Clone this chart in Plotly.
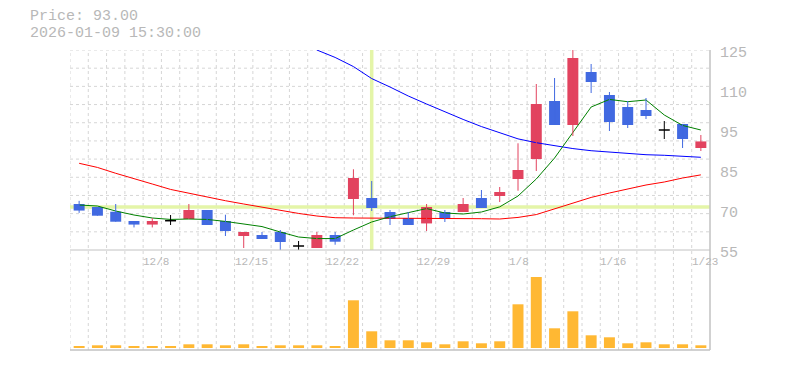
import plotly.graph_objects as go

# ---------------- data ----------------
dates = ['12/2', '12/3', '12/4', '12/5', '12/8', '12/9', '12/10', '12/11', '12/12',
         '12/15', '12/16', '12/17', '12/18', '12/19', '12/22', '12/23', '12/24',
         '12/25', '12/26', '12/29', '12/30', '1/5', '1/6', '1/7', '1/8', '1/9',
         '1/13', '1/14', '1/15', '1/16', '1/19', '1/20', '1/21', '1/22', '1/23']
opens = [71.1, 70.05, 68.4, 65.15, 63.9, 65.25, 65.85, 69.0, 65.15, 59.9, 60.25, 61.3,
         56.4, 55.7, 60.25, 72.85, 73.2, 68.3, 66.2, 64.3, 68.3, 68.3, 73.2, 73.9,
         79.85, 86.85, 107.15, 98.75, 117.3, 109.25, 105.05, 104.0, 97.0, 99.1, 90.7]
highs = [72.2, 70.1, 71.1, 65.15, 66.1, 67.25, 71.1, 69.0, 67.35, 61.3, 61.3, 62.0,
         58.15, 61.3, 61.3, 83.25, 79.15, 69.0, 68.3, 71.1, 69.0, 73.2, 76.0, 77.05,
         92.35, 113.1, 115.2, 125.0, 120.1, 110.3, 107.15, 108.2, 100.15, 99.1, 95.25]
lows = [68.0, 67.0, 64.9, 62.9, 62.9, 63.75, 65.85, 63.75, 59.9, 55.7, 58.85, 55.0,
        55.0, 55.7, 56.85, 67.15, 68.65, 63.75, 63.75, 61.65, 64.8, 68.3, 69.7, 71.8,
        75.75, 82.65, 98.75, 94.9, 109.95, 96.65, 97.7, 100.85, 93.85, 90.7, 89.65]
closes = [68.8, 67.0, 64.9, 63.9, 65.15, 65.25, 69.0, 63.75, 61.65, 61.3, 58.85, 57.8,
          56.4, 60.25, 57.9, 80.2, 69.7, 65.85, 63.75, 70.05, 65.85, 71.1, 69.7, 75.3,
          83.0, 106.1, 98.75, 122.2, 113.8, 99.8, 98.75, 101.9, 97.0, 93.85, 93.0]
volumes = [17, 27, 27, 17, 17, 17, 37, 37, 27, 37, 17, 27, 27, 27, 17, 477, 167, 77,
           77, 57, 37, 67, 47, 67, 437, 710, 197, 367, 127, 107, 47, 57, 37, 37, 27]
ma_short = [70.75, 70.4, 68.65, 67.25, 66.2, 65.7, 65.85, 65.7, 65.0, 64.1, 63.2, 61.3,
            59.55, 59.0, 59.0, 62.0, 64.8, 66.65, 68.1, 69.5, 67.95, 67.6, 68.3, 70.1,
            73.9, 79.85, 87.2, 96.3, 105.05, 107.7, 106.9, 107.5, 102.25, 98.6, 97.0]
ma_mid = [85.35, 83.9, 81.85, 79.85, 78.1, 76.2, 74.8, 73.4, 72.25, 71.1, 69.95, 68.8,
          67.8, 66.9, 66.3, 66.2, 66.2, 66.2, 66.1, 66.1, 66.0, 66.0, 65.95, 65.85,
          66.4, 67.4, 69.35, 71.45, 73.4, 74.95, 76.35, 77.75, 78.8, 80.2, 81.3]
ma_long = [None, None, None, None, None, None, None, None, None, None, None, None, None,
           125.0, 122.4, 119.2, 115.0, 112.05, 108.9, 106.1, 103.3, 100.7, 98.2, 95.95,
           93.9, 92.55, 91.4, 90.5, 89.75, 89.2, 88.8, 88.35, 88.15, 87.85, 87.45]
price_tick_vals = [55, 69, 83, 97, 111, 125]
price_tick_text = ['55', '70', '85', '95', '110', '125']
date_label_idx = [4, 9, 14, 19, 24, 29, 34]
title_price = 'Price: 93.00'
title_time = '2026-01-09 15:30:00'
cursor_idx = 16
cursor_price = 70.05

# ---------------- styling ----------------
UP = '#e2435f'
DOWN = '#4169e1'
VOL = '#ffb833'
GRID = '#d6d6d6'
AXIS = '#c2c2c2'
TXT = '#b8b8b8'
HL = '#e4f5a8'
FONT = 'Liberation Mono'

n = len(dates)
xs = list(range(n))
ymin, ymax = 55, 125

# the page body has an 8px margin; lay the figure out in window pixels minus that offset
OFF = 8
W, H = 785 - OFF, 370 - OFF
ML, MT = 70 - OFF, 50 - OFF
MR = W - (710 - OFF)
MB = H - (348 - OFF)
PH = H - MT - MB  # 298


def py(pix):
    """window pixel y -> paper y"""
    return (H - MB - (pix - OFF)) / PH


fig = go.Figure()

# moving averages (under candles)
fig.add_trace(go.Scatter(x=xs, y=ma_long, mode='lines', line=dict(color='#0000ff', width=1),
                         hoverinfo='skip', showlegend=False))
fig.add_trace(go.Scatter(x=xs, y=ma_mid, mode='lines', line=dict(color='#ff0000', width=1),
                         hoverinfo='skip', showlegend=False))
fig.add_trace(go.Scatter(x=xs, y=ma_short, mode='lines', line=dict(color='#008000', width=1),
                         hoverinfo='skip', showlegend=False))

# candles
wick = {UP: ([], []), DOWN: ([], []), 'black': ([], [])}
body = {UP: ([], [], []), DOWN: ([], [], [])}
dx, dy = [], []
for i in xs:
    o, h, l, c = opens[i], highs[i], lows[i], closes[i]
    if c > o:
        col = UP
    elif c < o:
        col = DOWN
    else:
        col = 'black'
    wick[col][0].extend([i, i, None])
    wick[col][1].extend([l, h, None])
    if col == 'black':
        dx.extend([i - 0.3, i + 0.3, None])
        dy.extend([c, c, None])
    else:
        body[col][0].append(i)
        body[col][1].append(min(o, c))
        body[col][2].append(abs(c - o))

for col, (wx, wy) in wick.items():
    fig.add_trace(go.Scatter(x=wx, y=wy, mode='lines', line=dict(color=col, width=1),
                             hoverinfo='skip', showlegend=False))
for col, (bx, bb, bh) in body.items():
    fig.add_trace(go.Bar(x=bx, y=bh, base=bb, marker=dict(color=col, line=dict(width=0)),
                         width=0.6, hoverinfo='skip', showlegend=False))
fig.add_trace(go.Scatter(x=dx, y=dy, mode='lines', line=dict(color='black', width=1.5),
                         hoverinfo='skip', showlegend=False))

# volume
fig.add_trace(go.Bar(x=xs, y=volumes, marker=dict(color=VOL, line=dict(width=0)), width=0.6,
                     yaxis='y2', hoverinfo='skip', showlegend=False))

shapes = []
for k in range(11):
    v = ymax - k * (ymax - ymin) / 11
    shapes.append(dict(type='line', xref='paper', yref='y', x0=0, x1=1, y0=v, y1=v,
                       line=dict(color=GRID, width=1, dash='dot'), layer='below'))
for i in xs:
    shapes.append(dict(type='line', xref='x', yref='paper', x0=i - 0.5, x1=i - 0.5,
                       y0=py(350), y1=1, line=dict(color=GRID, width=1, dash='dot'),
                       layer='below'))
shapes.append(dict(type='line', xref='x', yref='y', x0=cursor_idx, x1=cursor_idx,
                   y0=ymin, y1=ymax, line=dict(color=HL, width=3.5), layer='below'))
shapes.append(dict(type='line', xref='paper', yref='y', x0=0, x1=1, y0=cursor_price,
                   y1=cursor_price, line=dict(color=HL, width=3.5), layer='below'))
shapes.append(dict(type='line', xref='paper', yref='paper', x0=0, x1=1, y0=py(250), y1=py(250),
                   line=dict(color=AXIS, width=1), layer='above'))
shapes.append(dict(type='line', xref='paper', yref='paper', x0=0, x1=1, y0=py(350), y1=py(350),
                   line=dict(color=AXIS, width=1.5), layer='above'))
shapes.append(dict(type='line', xref='paper', yref='paper', x0=1, x1=1, y0=py(350), y1=1,
                   line=dict(color=AXIS, width=1.5), layer='above'))

annotations = []
for v, t in zip(price_tick_vals, price_tick_text):
    annotations.append(dict(x=1, xref='paper', y=v, yref='y', text=t, showarrow=False,
                            xanchor='left', yanchor='middle', xshift=8, yshift=-3,
                            font=dict(family=FONT, size=15, color=TXT)))
for i in date_label_idx:
    annotations.append(dict(x=i - 0.5, xref='x', y=py(262), yref='paper', text=dates[i],
                            showarrow=False, xanchor='left', yanchor='middle', xshift=-2,
                            font=dict(family=FONT, size=11, color=TXT)))
annotations.append(dict(x=(28 - 70) / 640, xref='paper', y=py(16.6), yref='paper',
                        text=title_price, showarrow=False, xanchor='left', yanchor='middle',
                        font=dict(family=FONT, size=15, color=TXT)))
annotations.append(dict(x=(28 - 70) / 640, xref='paper', y=py(33.8), yref='paper',
                        text=title_time, showarrow=False, xanchor='left', yanchor='middle',
                        font=dict(family=FONT, size=15, color=TXT)))

fig.update_layout(
    width=W, height=H,
    margin=dict(l=ML, r=MR, t=MT, b=MB, pad=0),
    paper_bgcolor='white', plot_bgcolor='white',
    barmode='overlay', showlegend=False, hovermode=False,
    xaxis=dict(range=[-0.5, n - 0.5], showgrid=False, zeroline=False, showticklabels=False,
               showline=False, ticks='', fixedrange=True),
    yaxis=dict(domain=[py(250), 1], range=[ymin, ymax], showgrid=False, zeroline=False,
               showticklabels=False, showline=False, ticks='', fixedrange=True),
    yaxis2=dict(domain=[0, py(270)], range=[0, 780], showgrid=False, zeroline=False,
                showticklabels=False, showline=False, ticks='', fixedrange=True),
    shapes=shapes, annotations=annotations,
)

fig.write_html('out.html', config={'displayModeBar': False})
